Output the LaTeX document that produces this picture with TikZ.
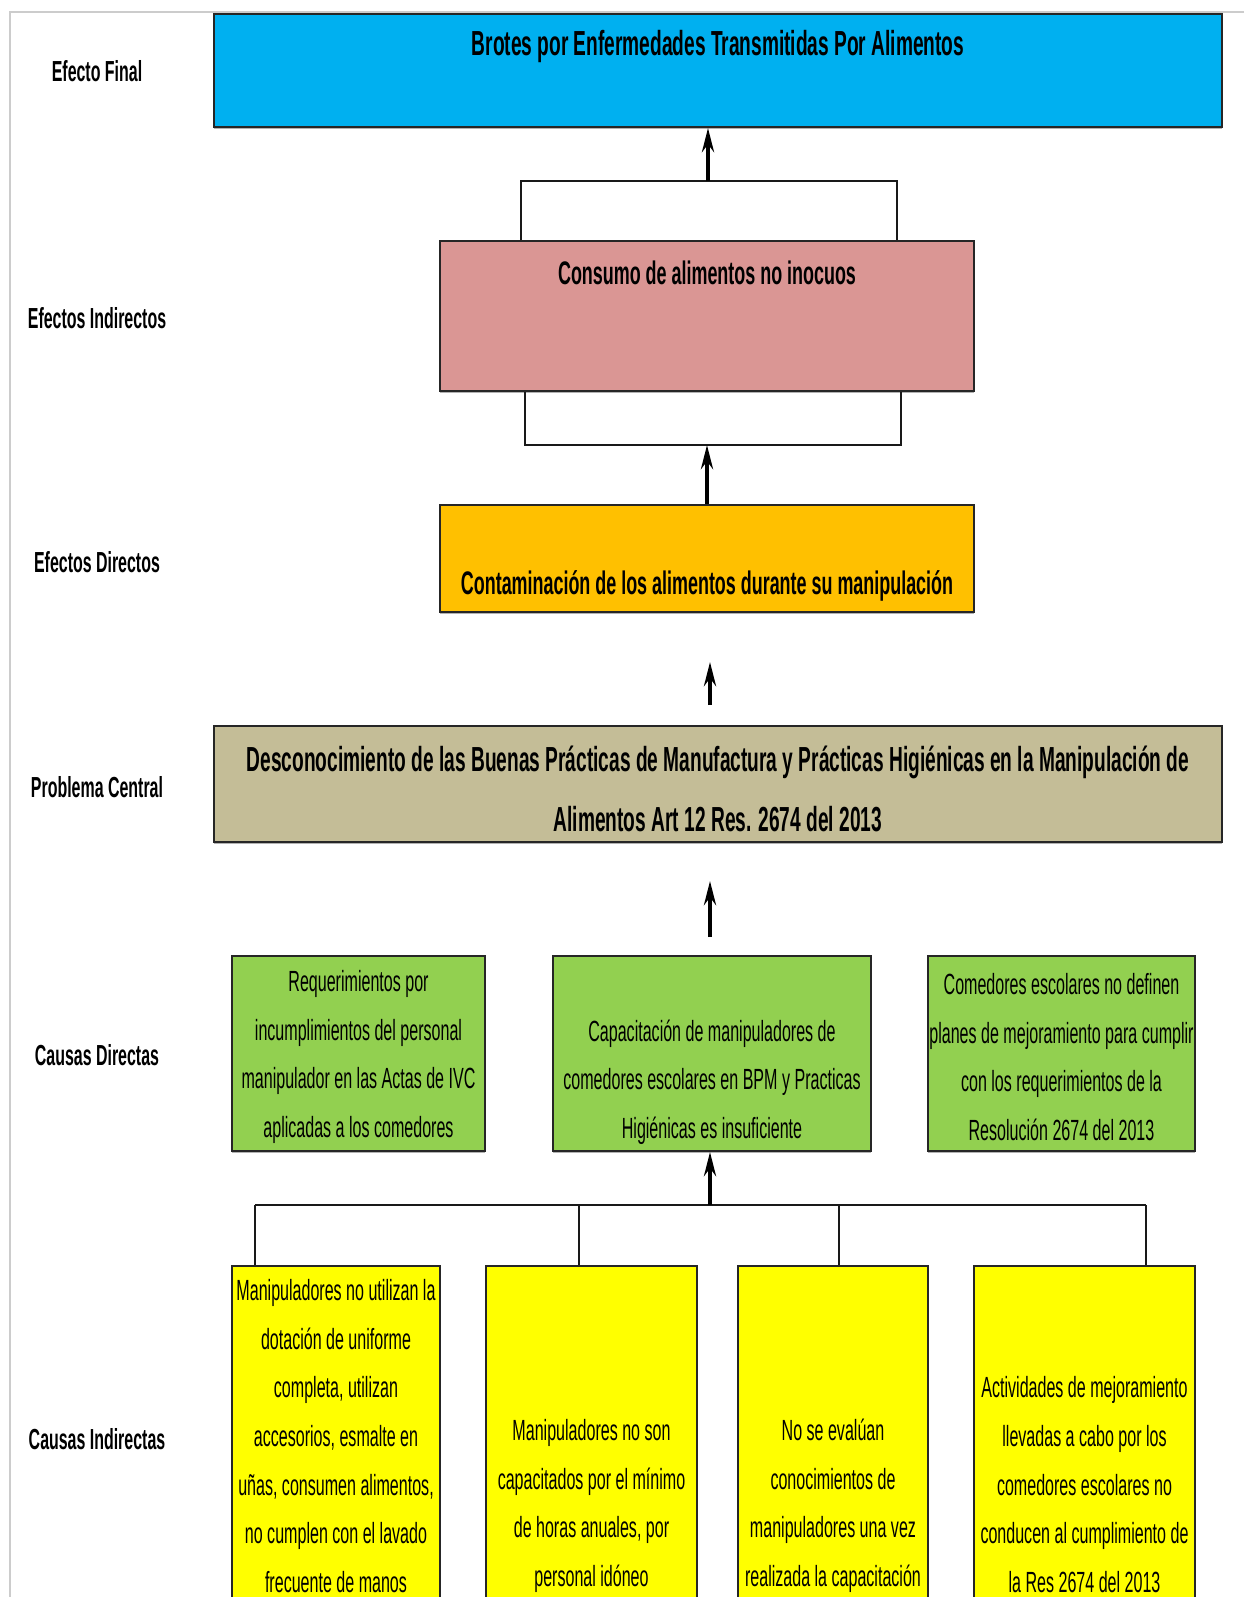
\documentclass[tikz,border=0pt]{standalone}
\usepackage{fontspec}
\usepackage{tikz}
\usetikzlibrary{arrows.meta,positioning,shadows}
\newfontfamily\angosta[FakeStretch=0.55]{Liberation Sans}
\definecolor{azul}{HTML}{00B0F0}
\definecolor{rosa}{HTML}{DA9694}
\definecolor{naranja}{HTML}{FFC000}
\definecolor{arena}{HTML}{C4BD97}
\definecolor{verde}{HTML}{92D050}
\definecolor{amarillo}{HTML}{FFFF00}

\begin{document}
\begin{tikzpicture}[x=0.5pt,y=-0.5pt,
	caja/.style={draw=black!85,line width=1pt,inner sep=0pt,drop shadow={shadow xshift=0pt,shadow yshift=-1.2pt,opacity=0.6}},
	etiqueta/.style={font=\angosta\bfseries\fontsize{14.5}{18}\selectfont,align=center},
	titulo/.style={font=\angosta\bfseries\fontsize{17.4}{30}\selectfont,align=center},
	subtitulo/.style={font=\angosta\bfseries\fontsize{16.3}{30}\selectfont,align=center},
	texto/.style={font=\angosta\fontsize{14.6}{24.3}\selectfont,align=center,inner sep=0pt},
	linea/.style={black!90,line width=0.8pt},
	flecha/.style={line width=2pt,-{Stealth[length=12pt,width=6pt]}}]
	\clip (0,0) rectangle (1244,1597);
	\fill[white] (0,0) rectangle (1244,1597);
	\draw[black!20,line width=1pt] (1244,12) -- (10,12) -- (10,1597);
	\node[etiqueta] (lfinal) at (97,71) {Efecto Final};
	\node[etiqueta] (lindirectos) at (97,318) {Efectos Indirectos};
	\node[etiqueta] (ldirectos) at (97,562) {Efectos Directos};
	\node[etiqueta] (lproblema) at (97,787) {Problema Central};
	\node[etiqueta] (lcausas) at (97,1055) {Causas Directas};
	\node[etiqueta] (lindirectas) at (97,1439) {Causas Indirectas};
	\node[caja,fill=azul,minimum width=504pt,minimum height=56.5pt] (final) at (718,70.5) {};
	\node[titulo] at (718,46) {Brotes por Enfermedades Transmitidas Por Alimentos};
	\node[caja,fill=rosa,minimum width=267pt,minimum height=75pt] (indirecto) at (707,316) {};
	\node[subtitulo] at (707,273) {Consumo de alimentos no inocuos};
	\node[caja,fill=naranja,minimum width=267pt,minimum height=53.5pt] (directo) at (707,558.5) {};
	\node[subtitulo] at (707,586) {Contaminación de los alimentos durante su manipulación};
	\node[caja,fill=arena,minimum width=504pt,minimum height=58pt] (problema) at (718,784) {};
	\node[titulo] at (718,789) {Desconocimiento de las Buenas Prácticas de Manufactura y Prácticas Higiénicas en la Manipulación de\\Alimentos Art 12 Res. 2674 del 2013};
	\node[caja,fill=verde,minimum width=126.5pt,minimum height=97.5pt] (g1) at (358.5,1053.5) {};
	\node[texto] at (358.5,1057) {Requerimientos por\\incumplimientos del personal\\manipulador en las Actas de IVC\\aplicadas a los comedores};
	\node[caja,fill=verde,minimum width=159pt,minimum height=97.5pt] (g2) at (712,1053.5) {};
	\node[texto] at (712,1082) {Capacitación de manipuladores de\\comedores escolares en BPM y Practicas\\Higiénicas es insuficiente};
	\node[caja,fill=verde,minimum width=133.5pt,minimum height=97.5pt] (g3) at (1061.5,1053.5) {};
	\node[texto] at (1061.5,1057) {Comedores escolares no definen\\planes de mejoramiento para cumplir\\con los requerimientos de la\\Resolución 2674 del 2013};
	\node[caja,fill=amarillo,minimum width=104pt,minimum height=180pt,anchor=north] (c1) at (336,1265) {};
	\node[texto,anchor=south] at (336,1593) {Manipuladores no utilizan la\\dotación de uniforme\\completa, utilizan\\accesorios, esmalte en\\uñas, consumen alimentos,\\no cumplen con el lavado\\frecuente de manos};
	\node[caja,fill=amarillo,minimum width=105.5pt,minimum height=180pt,anchor=north] (c2) at (591.5,1265) {};
	\node[texto,anchor=south] at (591.5,1593) {Manipuladores no son\\capacitados por el mínimo\\de horas anuales, por\\personal idóneo};
	\node[caja,fill=amarillo,minimum width=95pt,minimum height=180pt,anchor=north] (c3) at (833,1265) {};
	\node[texto,anchor=south] at (833,1593) {No se evalúan\\conocimientos de\\manipuladores una vez\\realizada la capacitación};
	\node[caja,fill=amarillo,minimum width=110.5pt,minimum height=180pt,anchor=north] (c4) at (1084.5,1265) {};
	\node[texto,anchor=south] at (1084.5,1593) {Actividades de mejoramiento\\llevadas a cabo por los\\comedores escolares no\\conducen al cumplimiento de\\la Res 2674 del 2013};
	\coordinate (ia) at (521,181);
	\coordinate (ib) at (897,181);
	\coordinate (it) at (708,181);
	\coordinate (ic) at (525,445);
	\coordinate (id) at (901,445);
	\coordinate (fa) at (710,705);
	\coordinate (fb) at (710,662);
	\coordinate (fc) at (710,937);
	\coordinate (fd) at (710,881);
	\coordinate (h0) at (710,1205);
	\coordinate (ha) at (255,1205);
	\coordinate (hb) at (1146,1205);
	\coordinate (h2) at (579,1205);
	\coordinate (h3) at (839,1205);
	\draw[linea] (ia |- indirecto.north) -- (ia) -- (ib) -- (ib |- indirecto.north);
	\draw[flecha] (it) -- (it |- final.south);
	\draw[linea] (ic |- indirecto.south) -- (ic) -- (id) -- (id |- indirecto.south);
	\draw[flecha] (directo.north) -- (directo.north |- ic);
	\draw[flecha] (fa) -- (fb);
	\draw[flecha] (fc) -- (fd);
	\draw[linea,line width=1.2pt] (ha) -- (hb);
	\draw[flecha] (h0) -- (h0 |- g2.south);
	\draw[linea] (ha) -- (ha |- c1.north);
	\draw[linea] (h2) -- (h2 |- c2.north);
	\draw[linea] (h3) -- (h3 |- c3.north);
	\draw[linea] (hb) -- (hb |- c4.north);
\end{tikzpicture}
\end{document}
